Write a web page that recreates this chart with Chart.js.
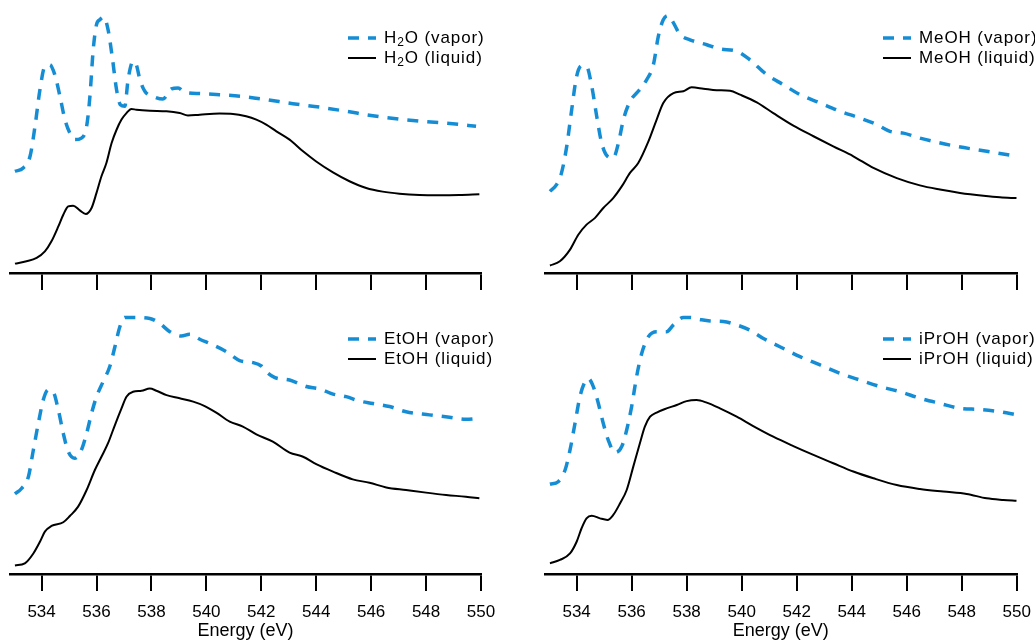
<!DOCTYPE html>
<html>
<head>
<meta charset="utf-8">
<script src="https://cdn.jsdelivr.net/npm/chart.js@4.4.1/dist/chart.umd.min.js"></script>
<style>
  body { margin: 0; background: #fff; width: 1035px; height: 642px; overflow: hidden; position: relative; }
  canvas { position: absolute; }
</style>
</head>
<body>
<canvas id="h2o" width="520" height="300" style="left:0;top:0"></canvas>
<canvas id="meoh" width="500" height="300" style="left:535px;top:0"></canvas>
<canvas id="etoh" width="520" height="342" style="left:0;top:300px"></canvas>
<canvas id="iproh" width="500" height="342" style="left:535px;top:300px"></canvas>
<script>
// O K-edge spectra, energy in eV, intensity in arbitrary units
const energyRange = [532.85, 550];
const energyTicks = [534, 536, 538, 540, 542, 544, 546, 548, 550];

const h2oLabels = ['H₂O (vapor)', 'H₂O (liquid)'];
const meohLabels = ['MeOH (vapor)', 'MeOH (liquid)'];
const etohLabels = ['EtOH (vapor)', 'EtOH (liquid)'];
const iprohLabels = ['iPrOH (vapor)', 'iPrOH (liquid)'];

const h2oVaporE = [533.03, 533.33, 533.58, 533.76, 533.94, 534.12, 534.30, 534.48, 534.67, 534.85, 535.03, 535.21, 535.45, 535.64, 535.76, 535.88, 536.00, 536.12, 536.27, 536.42, 536.57, 536.73, 536.87, 537.03, 537.15, 537.33, 537.45, 537.58, 537.76, 538.06, 538.42, 538.73, 538.97, 539.21, 539.76, 540.48, 541.33, 542.18, 543.15, 544.12, 545.09, 546.06, 547.03, 548.00, 548.97, 549.82];
const h2oVaporI = [39.1, 40.4, 44.9, 56.4, 70.5, 79.5, 80.1, 76.3, 67.9, 59.0, 53.8, 51.3, 51.9, 56.4, 67.9, 85.9, 95.5, 97.4, 98.5, 93.6, 83.3, 70.5, 64.7, 64.1, 74.4, 81.4, 80.1, 74.4, 69.9, 67.9, 66.9, 70.8, 71.2, 69.5, 69.0, 68.6, 67.9, 66.7, 65.1, 63.8, 62.2, 60.5, 59.2, 58.2, 57.4, 56.4];
const h2oLiquidE = [533.03, 533.45, 533.82, 534.12, 534.36, 534.61, 534.79, 534.97, 535.15, 535.39, 535.61, 535.82, 536.00, 536.18, 536.36, 536.55, 536.73, 536.91, 537.09, 537.27, 537.45, 537.94, 538.55, 539.03, 539.33, 539.76, 540.48, 540.97, 541.45, 541.82, 542.18, 542.55, 543.03, 543.52, 544.00, 544.61, 545.21, 545.82, 546.42, 547.03, 547.76, 548.48, 549.21, 549.94];
const h2oLiquidI = [3.6, 4.5, 5.8, 8.3, 12.2, 17.9, 22.4, 25.6, 25.9, 24.1, 22.7, 25.0, 30.8, 37.2, 42.3, 50.0, 55.1, 59.0, 61.5, 63.1, 62.8, 62.4, 62.2, 61.5, 60.6, 60.9, 61.3, 61.2, 60.3, 59.0, 57.1, 54.5, 51.3, 46.8, 42.9, 38.7, 35.3, 32.7, 31.3, 30.5, 30.0, 29.9, 30.0, 30.3];

const meohVaporE = [533.03, 533.27, 533.45, 533.64, 533.82, 534.00, 534.18, 534.36, 534.55, 534.73, 534.91, 535.12, 535.33, 535.52, 535.70, 535.94, 536.24, 536.55, 536.79, 536.97, 537.15, 537.33, 537.52, 537.76, 538.12, 538.73, 539.21, 539.82, 540.30, 540.91, 541.52, 542.12, 542.85, 543.58, 544.30, 544.91, 545.39, 545.88, 546.48, 547.09, 547.82, 548.55, 549.27, 550.00];
const meohVaporI = [31.4, 34.0, 38.5, 48.7, 62.8, 75.6, 79.7, 79.5, 71.8, 60.3, 50.0, 44.9, 44.2, 50.0, 59.0, 66.0, 69.9, 74.4, 80.1, 91.0, 97.4, 99.0, 96.2, 91.7, 89.7, 87.8, 86.2, 85.3, 82.0, 76.3, 72.4, 68.6, 65.4, 62.2, 59.6, 57.1, 54.5, 53.8, 51.9, 50.3, 48.7, 47.4, 46.2, 44.9];
const meohLiquidE = [533.03, 533.39, 533.76, 534.06, 534.36, 534.67, 534.97, 535.33, 535.64, 535.94, 536.24, 536.61, 536.91, 537.15, 537.52, 537.88, 538.18, 538.61, 539.09, 539.58, 539.94, 540.55, 541.15, 541.88, 542.61, 543.33, 544.06, 544.79, 545.64, 546.48, 547.21, 547.94, 548.79, 549.39, 550.00];
const meohLiquidI = [2.9, 4.5, 9.0, 14.7, 18.6, 21.2, 25.0, 28.8, 33.3, 38.5, 42.3, 50.6, 59.0, 65.4, 69.2, 69.9, 71.4, 70.9, 70.3, 70.1, 68.6, 65.6, 61.5, 56.7, 52.6, 48.7, 44.9, 40.4, 36.5, 33.7, 32.1, 30.8, 29.7, 29.1, 28.8];

const etohVaporE = [533.03, 533.27, 533.52, 533.70, 533.88, 534.06, 534.24, 534.42, 534.61, 534.79, 534.97, 535.21, 535.45, 535.64, 535.82, 536.00, 536.24, 536.48, 536.67, 536.85, 537.03, 537.33, 537.94, 538.30, 538.67, 539.09, 539.39, 539.76, 540.24, 540.73, 541.21, 541.70, 542.00, 542.18, 542.48, 543.03, 543.64, 544.12, 544.61, 545.09, 545.58, 546.06, 546.67, 547.27, 548.12, 548.85, 549.45, 549.94];
const etohVaporI = [30.8, 32.9, 37.4, 47.7, 57.9, 66.9, 70.8, 70.1, 63.1, 54.1, 47.1, 44.5, 47.7, 54.1, 61.8, 68.2, 74.0, 79.7, 87.4, 95.1, 98.7, 98.7, 98.3, 96.4, 93.2, 91.5, 92.2, 90.3, 88.1, 85.5, 82.1, 81.3, 80.0, 77.8, 75.6, 74.6, 72.1, 71.2, 69.2, 68.2, 66.5, 65.6, 64.4, 62.4, 61.2, 60.3, 59.5, 59.9];
const etohLiquidE = [533.03, 533.39, 533.70, 533.94, 534.12, 534.36, 534.79, 535.03, 535.33, 535.64, 535.94, 536.18, 536.42, 536.67, 536.91, 537.09, 537.33, 537.64, 537.94, 538.18, 538.55, 539.03, 539.52, 539.94, 540.36, 540.85, 541.33, 541.82, 542.42, 543.03, 543.52, 544.00, 544.61, 545.33, 545.94, 546.55, 547.27, 548.00, 548.73, 549.45, 549.94];
const etohLiquidI = [3.3, 4.1, 7.9, 12.4, 16.3, 18.5, 19.9, 22.3, 25.9, 32.3, 40.0, 45.1, 50.3, 57.3, 63.7, 68.2, 70.1, 70.5, 71.3, 70.5, 68.8, 67.6, 66.3, 64.6, 62.1, 58.6, 56.7, 53.7, 50.9, 46.7, 45.1, 42.3, 39.4, 36.4, 35.1, 33.3, 32.3, 31.3, 30.4, 29.7, 29.1];

const iprohVaporE = [533.03, 533.33, 533.58, 533.76, 533.94, 534.12, 534.30, 534.42, 534.61, 534.79, 534.97, 535.15, 535.39, 535.64, 535.82, 536.00, 536.18, 536.36, 536.61, 536.91, 537.27, 537.52, 537.88, 538.12, 538.48, 538.85, 539.33, 539.82, 540.30, 540.79, 541.39, 542.12, 542.85, 543.58, 544.30, 545.03, 545.76, 546.48, 547.21, 547.94, 548.67, 549.39, 550.00];
const iprohVaporI = [34.5, 35.5, 40.0, 47.7, 57.9, 68.2, 73.9, 75.2, 72.0, 65.6, 57.9, 51.5, 46.7, 49.0, 55.4, 64.4, 75.9, 84.6, 91.3, 93.2, 93.2, 95.8, 98.7, 98.7, 97.9, 97.3, 97.1, 95.8, 93.8, 90.6, 87.4, 83.6, 80.4, 77.2, 74.6, 72.1, 70.1, 67.6, 65.6, 63.7, 63.3, 62.4, 61.2];
const iprohLiquidE = [533.03, 533.39, 533.76, 534.00, 534.18, 534.36, 534.55, 534.85, 535.12, 535.33, 535.58, 535.82, 536.06, 536.30, 536.48, 536.67, 536.91, 537.27, 537.64, 538.00, 538.36, 538.73, 539.21, 539.82, 540.42, 541.15, 541.88, 542.61, 543.33, 544.06, 544.79, 545.64, 546.48, 547.33, 548.18, 548.91, 549.52, 550.00];
const iprohLiquidI = [4.1, 5.4, 7.9, 12.4, 17.6, 21.4, 22.4, 21.4, 20.8, 22.7, 27.2, 32.3, 41.3, 50.3, 56.7, 60.5, 62.1, 63.7, 65.0, 66.5, 66.9, 65.9, 63.7, 60.5, 56.9, 52.8, 49.2, 45.8, 42.6, 39.4, 36.8, 34.2, 32.7, 31.7, 30.8, 29.1, 28.5, 28.2];

const FONT = "'Liberation Sans', Arial, Helvetica, sans-serif";
const VAPOR_BLUE = '#158dd5';
const SUBSCRIPTS = '₀₁₂₃₄₅₆₇₈₉';

function toPoints(xs, ys) {
  return xs.map((x, i) => ({ x: x, y: ys[i] }));
}

// legend text with lowered subscript digits (H₂O)
function drawLabel(ctx, text, x, y) {
  ctx.fillStyle = '#000';
  ctx.textBaseline = 'middle';
  ctx.textAlign = 'left';
  ctx.letterSpacing = '0.9px';
  let run = '';
  const flush = () => {
    if (!run) return;
    ctx.font = '17px ' + FONT;
    ctx.fillText(run, x, y);
    x += ctx.measureText(run).width;
    run = '';
  };
  for (const ch of text) {
    const k = SUBSCRIPTS.indexOf(ch);
    if (k < 0) { run += ch; continue; }
    flush();
    ctx.font = '12px ' + FONT;
    ctx.fillText(String(k), x, y + 5);
    x += ctx.measureText(String(k)).width;
  }
  flush();
}

const inlineLegend = {
  id: 'inlineLegend',
  afterDraw(chart) {
    const { ctx, chartArea } = chart;
    const x0 = chartArea.left + 338;
    ctx.save();
    chart.data.datasets.forEach((ds, i) => {
      const y = chartArea.bottom - 235 + i * 20;
      ctx.beginPath();
      ctx.strokeStyle = ds.borderColor;
      ctx.lineWidth = ds.borderWidth;
      ctx.setLineDash(ds.borderDash || []);
      ctx.moveTo(x0, y);
      ctx.lineTo(x0 + 28, y);
      ctx.stroke();
      ctx.setLineDash([]);
      drawLabel(ctx, ds.label, x0 + 36, y);
    });
    ctx.restore();
  }
};

function buildPanel(id, labels, vapor, liquid, bottomRow, padRight) {
  const canvas = document.getElementById(id);
  const axisHeight = bottomRow ? 68 : 27;
  new Chart(canvas, {
    type: 'line',
    data: {
      datasets: [
        { label: labels[0], data: vapor, borderColor: VAPOR_BLUE, borderWidth: 3.5, borderDash: [11, 9] },
        { label: labels[1], data: liquid, borderColor: '#000', borderWidth: 2 }
      ]
    },
    options: {
      responsive: false,
      animation: false,
      events: [],
      layout: { padding: { left: 10, right: padRight, top: bottomRow ? 14 : 13, bottom: 0 } },
      elements: {
        point: { radius: 0 },
        line: { cubicInterpolationMode: 'monotone', fill: false }
      },
      plugins: { legend: { display: false }, tooltip: { enabled: false } },
      scales: {
        x: {
          type: 'linear',
          position: 'bottom',
          min: energyRange[0],
          max: energyRange[1],
          afterBuildTicks: (scale) => { scale.ticks = energyTicks.map(v => ({ value: v })); },
          // fixed axis height; the end label may hang past the plot edge
          afterFit: (scale) => {
            scale.height = axisHeight;
            scale.paddingLeft = 0;
            scale.paddingRight = 0;
          },
          border: { display: true, width: 2.5, color: '#000' },
          grid: { drawOnChartArea: false, drawTicks: true, tickLength: 17, lineWidth: 2, color: '#000' },
          ticks: {
            display: bottomRow,
            padding: 11,
            color: '#000',
            font: { family: FONT, size: 17 },
            maxRotation: 0
          },
          title: {
            display: bottomRow,
            text: 'Energy (eV)',
            color: '#000',
            font: { family: FONT, size: 18 },
            padding: { top: 0, bottom: 0 }
          }
        },
        y: { display: false, min: 0, max: 100 }
      }
    },
    plugins: [inlineLegend]
  });
}

buildPanel('h2o', h2oLabels, toPoints(h2oVaporE, h2oVaporI), toPoints(h2oLiquidE, h2oLiquidI), false, 39);
buildPanel('meoh', meohLabels, toPoints(meohVaporE, meohVaporI), toPoints(meohLiquidE, meohLiquidI), false, 18.3);
buildPanel('etoh', etohLabels, toPoints(etohVaporE, etohVaporI), toPoints(etohLiquidE, etohLiquidI), true, 39);
buildPanel('iproh', iprohLabels, toPoints(iprohVaporE, iprohVaporI), toPoints(iprohLiquidE, iprohLiquidI), true, 18.3);
</script>
</body>
</html>
